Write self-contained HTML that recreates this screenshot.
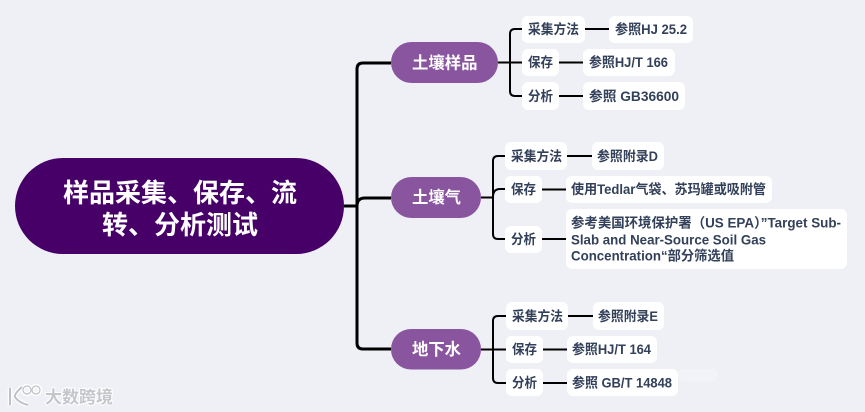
<!DOCTYPE html>
<html lang="zh">
<head>
<meta charset="utf-8">
<style>
html,body{margin:0;padding:0;width:865px;height:412px;overflow:hidden;background:#eff0f6}
svg{display:block}
text{font-family:"Liberation Sans","Noto Sans CJK SC",sans-serif;font-weight:700}
.t{font-size:13.500px;fill:#33405a}
.b{font-size:16.500px;fill:#fff}
.r{font-size:26px;fill:#fff}
.w{font-size:17px;font-weight:700;fill:#c4c6cc;stroke:#fff;stroke-width:2px;paint-order:stroke}
.soft{filter:blur(.35px)}
</style>
</head>
<body>
<svg width="865" height="412" viewBox="0 0 865 412" xmlns="http://www.w3.org/2000/svg">
<rect width="865" height="412" fill="#eff0f6"/>

<!-- trunk -->
<g fill="none" stroke="#000" stroke-width="3">
<path d="M391 63H363Q357 63 357 69V343Q357 349 363 349H391"/>
<path d="M344 206H357"/>
<path d="M357 206Q357 198 365 198H391"/>
</g>
<!-- sub connectors -->
<g fill="none" stroke="#000" stroke-width="2">
<path d="M522 29H515Q510 29 510 34V91Q510 96 515 96H522"/>
<path d="M498 62.500H522"/>
<path d="M585 29H609M559 62.500H583M559 96H583"/>
<path d="M505 156H498Q493 156 493 161V234Q493 239 498 239H505"/>
<path d="M481 197.500H493"/>
<path d="M493 197Q493 189 500 189H505"/>
<path d="M567 156H592M542 189.500H566M542 239H566"/>
<path d="M506 316H498Q493 316 493 321V378Q493 383 498 383H506"/>
<path d="M481 349.500H506"/>
<path d="M568 316H593M543 349.500H567M543 383H567"/>
</g>

<!-- root -->
<rect x="15" y="158" width="329" height="96" rx="48" fill="#470068"/>
<g class="soft">
<text class="r" x="63" y="202" textLength="234" lengthAdjust="spacingAndGlyphs">样品采集、保存、流</text>
<text class="r" x="102" y="234" textLength="156" lengthAdjust="spacingAndGlyphs">转、分析测试</text>
</g>

<!-- branches -->
<g fill="#8a559f">
<rect x="391" y="42" width="107" height="41" rx="20.500"/>
<rect x="391" y="177" width="90" height="41" rx="20.500"/>
<rect x="391" y="329" width="90" height="40.500" rx="20"/>
</g>
<g class="soft">
<text class="b" x="412" y="68.500" textLength="65.500" lengthAdjust="spacingAndGlyphs">土壤样品</text>
<text class="b" x="412" y="203" textLength="49" lengthAdjust="spacingAndGlyphs">土壤气</text>
<text class="b" x="412" y="355" textLength="49" lengthAdjust="spacingAndGlyphs">地下水</text>
</g>

<!-- leaf boxes -->
<g fill="#fff">
<rect x="522" y="16" width="63" height="27" rx="6"/>
<rect x="522" y="49" width="37" height="27" rx="6"/>
<rect x="522" y="82" width="37" height="28" rx="6"/>
<rect x="609" y="16" width="84" height="27" rx="6"/>
<rect x="583" y="49" width="92" height="27" rx="6"/>
<rect x="583" y="82" width="102" height="28" rx="6"/>

<rect x="505" y="142" width="62" height="28" rx="6"/>
<rect x="505" y="176" width="37" height="27" rx="6"/>
<rect x="505" y="226" width="37" height="27" rx="6"/>
<rect x="592" y="142" width="72" height="28" rx="6"/>
<rect x="566" y="176" width="206" height="27" rx="6"/>
<rect x="566" y="209" width="281" height="60" rx="6"/>

<rect x="506" y="302" width="62" height="28" rx="6"/>
<rect x="506" y="336" width="37" height="27" rx="6"/>
<rect x="506" y="369" width="37" height="27" rx="6"/>
<rect x="593" y="302" width="71" height="28" rx="6"/>
<rect x="567" y="336" width="90" height="27" rx="6"/>
<rect x="567" y="369" width="111" height="27" rx="6"/>
</g>

<!-- leaf text -->
<g class="soft">
<text class="t" x="528" y="34" textLength="51" lengthAdjust="spacingAndGlyphs">采集方法</text>
<text class="t" x="528" y="67" textLength="25" lengthAdjust="spacingAndGlyphs">保存</text>
<text class="t" x="528" y="101" textLength="25" lengthAdjust="spacingAndGlyphs">分析</text>
<text class="t" x="615" y="34" textLength="72" lengthAdjust="spacingAndGlyphs">参照HJ 25.2</text>
<text class="t" x="589" y="67" textLength="79" lengthAdjust="spacingAndGlyphs">参照HJ/T 166</text>
<text class="t" x="589" y="101" textLength="90" lengthAdjust="spacingAndGlyphs">参照 GB36600</text>

<text class="t" x="511" y="161" textLength="51" lengthAdjust="spacingAndGlyphs">采集方法</text>
<text class="t" x="511" y="194" textLength="25" lengthAdjust="spacingAndGlyphs">保存</text>
<text class="t" x="511" y="244" textLength="25" lengthAdjust="spacingAndGlyphs">分析</text>
<text class="t" x="597" y="161" textLength="61" lengthAdjust="spacingAndGlyphs">参照附录D</text>
<text class="t" x="571" y="194" textLength="195" lengthAdjust="spacingAndGlyphs">使用Tedlar气袋、苏玛罐或吸附管</text>
<text class="t" x="571" y="227.500" textLength="270" lengthAdjust="spacingAndGlyphs">参考美国环境保护署（US EPA）”Target Sub-</text>
<text class="t" x="571" y="244.500" textLength="195" lengthAdjust="spacingAndGlyphs">Slab and Near-Source Soil Gas</text>
<text class="t" x="571" y="260.500" textLength="163" lengthAdjust="spacingAndGlyphs">Concentration“部分筛选值</text>

<text class="t" x="512" y="321" textLength="51" lengthAdjust="spacingAndGlyphs">采集方法</text>
<text class="t" x="512" y="354" textLength="25" lengthAdjust="spacingAndGlyphs">保存</text>
<text class="t" x="512" y="387.500" textLength="25" lengthAdjust="spacingAndGlyphs">分析</text>
<text class="t" x="598" y="321" textLength="60" lengthAdjust="spacingAndGlyphs">参照附录E</text>
<text class="t" x="572" y="354" textLength="79" lengthAdjust="spacingAndGlyphs">参照HJ/T 164</text>
<text class="t" x="572" y="387.500" textLength="100" lengthAdjust="spacingAndGlyphs">参照 GB/T 14848</text>
</g>

<!-- faint smudge beside the last leaf -->
<rect x="678" y="369" width="40" height="13" rx="6" fill="#f2f3f8"/>

<!-- watermark -->
<g fill="none" stroke="#fff" stroke-width="4.500" opacity=".95">
<path d="M10 388V405M22 387Q14 394 15 397Q19 403 28 405"/>
<circle cx="27" cy="390" r="4"/><circle cx="36" cy="390" r="4"/>
</g>
<g fill="none" stroke="#bfc1c8" stroke-width="2">
<path d="M10 388V405M22 387Q14 394 15 397Q19 403 28 405"/>
</g>
<g fill="none" stroke="#bfc1c8" stroke-width="1.200">
<circle cx="27" cy="390" r="4"/><circle cx="36" cy="390" r="4"/>
</g>
<text class="w" x="45" y="403" textLength="68" lengthAdjust="spacingAndGlyphs">大数跨境</text>
</svg>
</body>
</html>
